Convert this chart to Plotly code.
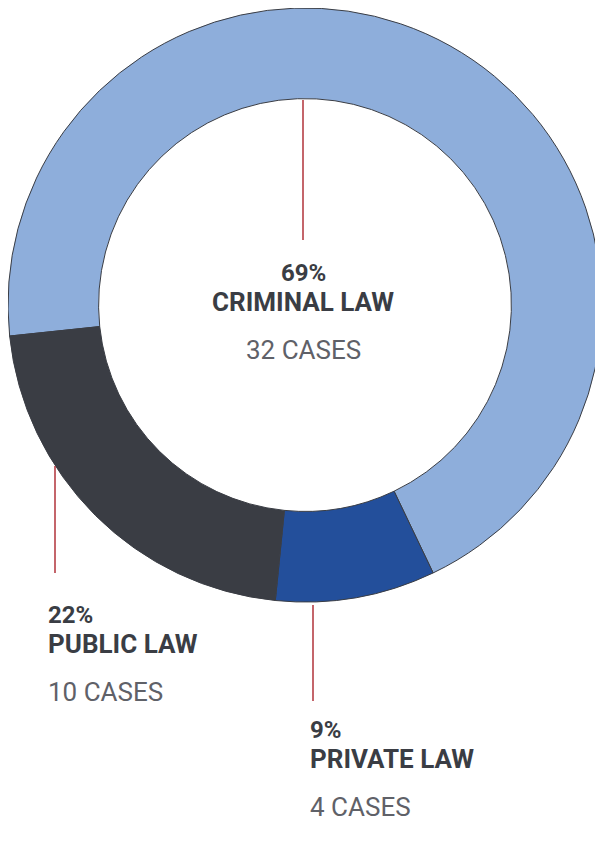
import plotly.graph_objects as go

labels = ["CRIMINAL LAW", "PRIVATE LAW", "PUBLIC LAW"]
cases = [32, 4, 10]
pcts = ["69%", "9%", "22%"]
colors = ["#8eaedb", "#234f9b", "#3a3d44"]

W, H = 603, 847
fig = go.Figure(go.Pie(
    labels=labels, values=cases, sort=False, direction="clockwise", rotation=264,
    hole=0.695, marker=dict(colors=colors, line=dict(color="#3a3d44", width=1)),
    textinfo="none", hoverinfo="label+value", showlegend=False,
    domain=dict(x=[0, 594/W], y=[1-594/H, 1])))

def px(x): return x / W
def py(y): return 1 - y / H

line_c = "#b0323a"
for (x0, y0, x1, y1) in [(295, 92, 295, 232), (47, 458, 47, 565), (305, 597, 305, 693)]:
    fig.add_shape(type="line", xref="paper", yref="paper", x0=px(x0), y0=py(y0), x1=px(x1), y1=py(y1),
                  line=dict(color=line_c, width=1.5))

fnt = "Roboto"
dark = "#3a3d44"
grey = "#5f6168"
def label(x, y0, i, anchor):
    fig.add_annotation(x=px(x), y=py(y0), text="<b>%s</b>" % pcts[i], showarrow=False, xanchor=anchor,
                       yanchor="middle", font=dict(family=fnt, size=24, color=dark), xref="paper", yref="paper")
    fig.add_annotation(x=px(x), y=py(y0 + 29), text="<b>%s</b>" % labels[i], showarrow=False, xanchor=anchor,
                       yanchor="middle", font=dict(family=fnt, size=26, color=dark), xref="paper", yref="paper")
    fig.add_annotation(x=px(x), y=py(y0 + 77), text="%d CASES" % cases[i], showarrow=False, xanchor=anchor,
                       yanchor="middle", font=dict(family=fnt, size=26, color=grey), xref="paper", yref="paper")

label(295, 265, 0, "center")
label(38, 607, 2, "left")
label(300, 722, 1, "left")

fig.update_layout(width=W, height=H, margin=dict(l=0, r=0, t=0, b=0),
                  paper_bgcolor="white", plot_bgcolor="white")
fig.write_html("out.html")
